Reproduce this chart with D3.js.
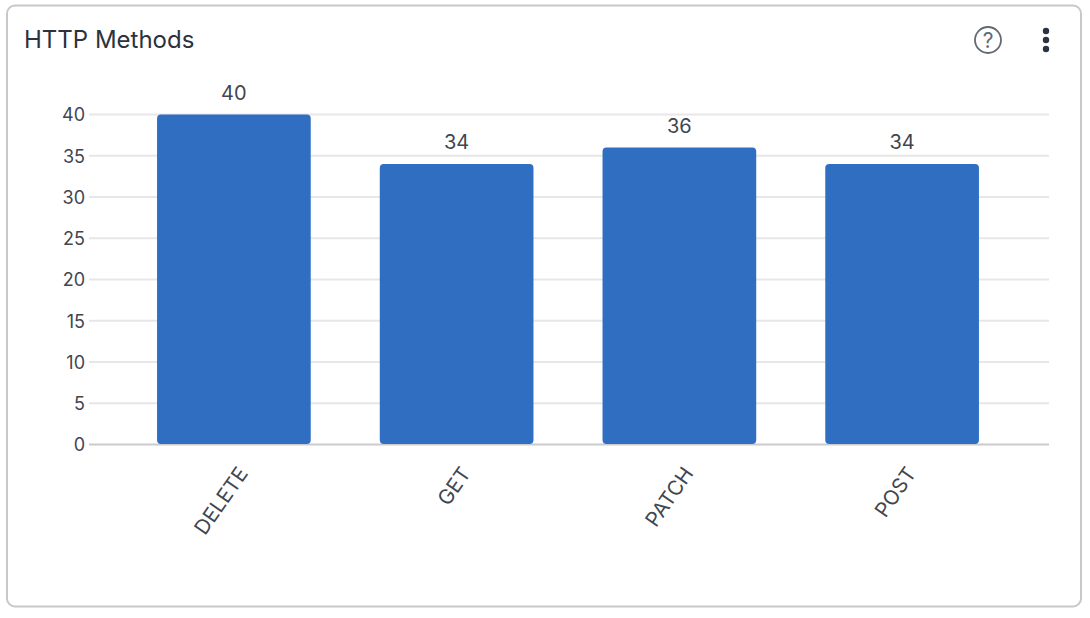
<!DOCTYPE html>
<html>
<head>
<meta charset="utf-8">
<script src="https://cdn.jsdelivr.net/npm/d3@7"></script>
<style>
  html, body { margin: 0; padding: 0; background: #fff; }
  svg { display: block; font-family: Inter, sans-serif; }
</style>
</head>
<body>
<svg id="chart" width="1090" height="618"></svg>
<script>
const methods = ['DELETE', 'GET', 'PATCH', 'POST']
const counts = [40, 34, 36, 34]
const yTicks = [0, 5, 10, 15, 20, 25, 30, 35, 40]

const svg = d3.select('#chart')
const textColor = '#3f4650'

// card
svg.append('rect')
  .attr('x', 7).attr('y', 5.5)
  .attr('width', 1074).attr('height', 601)
  .attr('rx', 8)
  .attr('fill', '#fff')
  .attr('stroke', '#c6c8cb')
  .attr('stroke-width', 2)

svg.append('text')
  .attr('x', 24).attr('y', 47.5)
  .attr('font-size', 24)
  .attr('fill', '#2b3240')
  .text('HTTP Methods')

// help icon
const help = svg.append('g').attr('transform', 'translate(988,40)')
help.append('circle').attr('r', 13).attr('fill', 'none').attr('stroke', '#646a75').attr('stroke-width', 1.8)
help.append('text')
  .attr('y', 7.5).attr('text-anchor', 'middle')
  .attr('font-size', 21).attr('fill', '#646a75')
  .text('?')

// kebab menu
svg.append('g').selectAll('circle')
  .data([31, 40, 49])
  .enter()
  .append('circle')
  .attr('cx', 1046).attr('cy', d => d)
  .attr('r', 3.2)
  .attr('fill', '#2b3240')

const x = d3.scaleBand()
  .domain(methods)
  .range([88, 1048])
  .padding(0.31)

const y = d3.scaleLinear()
  .domain([0, 40])
  .range([444.5, 114.5])

// grid lines
svg.append('g').selectAll('line')
  .data(yTicks)
  .enter()
  .append('line')
  .attr('x1', 89).attr('x2', 1049)
  .attr('y1', d => y(d)).attr('y2', d => y(d))
  .attr('stroke', d => d === 0 ? '#c9cbcf' : '#e7e7e9')
  .attr('stroke-width', 2)

// y axis labels
const yAxis = svg.append('g')
  .attr('transform', 'translate(89,0.5)')
  .call(d3.axisLeft(y).tickValues(yTicks).tickSize(0).tickPadding(4))
yAxis.select('.domain').remove()
yAxis.selectAll('text')
  .attr('font-family', 'Inter, sans-serif')
  .attr('font-size', 18)
  .attr('fill', textColor)

// bars
svg.append('g').selectAll('rect')
  .data(counts)
  .enter()
  .append('rect')
  .attr('x', (d, i) => x(methods[i]))
  .attr('y', d => y(d))
  .attr('width', x.bandwidth())
  .attr('height', d => y(0) - y(d) - 0.5)
  .attr('rx', 4)
  .attr('fill', '#306ec2')

// value labels
svg.append('g').selectAll('text')
  .data(counts)
  .enter()
  .append('text')
  .attr('x', (d, i) => x(methods[i]) + x.bandwidth() / 2)
  .attr('y', d => y(d) - 15)
  .attr('text-anchor', 'middle')
  .attr('font-size', 20)
  .attr('fill', textColor)
  .text(d => d)

// x axis labels, rotated
const xAxis = svg.append('g')
  .attr('transform', 'translate(0,444.5)')
  .call(d3.axisBottom(x).tickSize(0))
xAxis.select('.domain').remove()
xAxis.selectAll('text')
  .attr('font-family', 'Inter, sans-serif')
  .attr('font-size', 20.5)
  .attr('fill', textColor)
  .attr('text-anchor', 'end')
  .attr('dy', 0)
  .attr('y', 0)
  .attr('transform', 'translate(15,29) rotate(-55)')
</script>
</body>
</html>
